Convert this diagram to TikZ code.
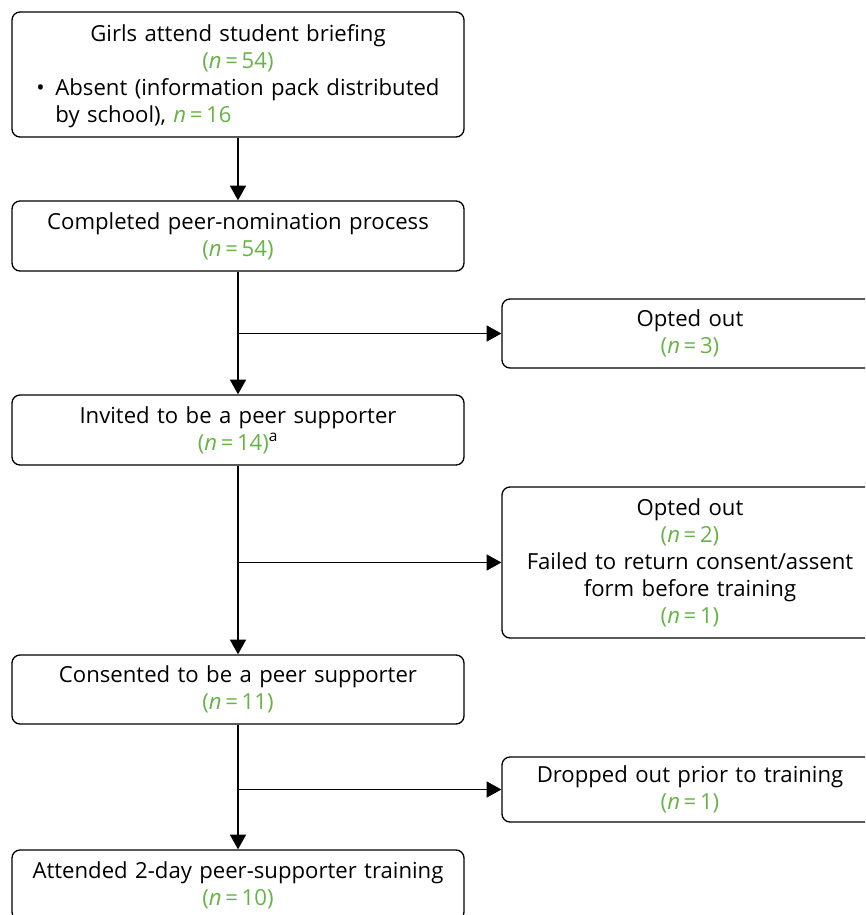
\documentclass[tikz,border=0pt]{standalone}
\usepackage{fontspec}
\setmainfont{Open Sans}
\usetikzlibrary{arrows.meta}
\definecolor{ngreen}{RGB}{102,180,72}
\newcommand{\nval}[1]{\textcolor{ngreen}{(\textit{n}\,=\,#1)}}
\tikzset{
  flowbox/.style={draw, rounded corners=6pt, align=center, inner sep=0pt,
    font=\fontsize{16.6}{20.25}\selectfont},
  mainbox/.style={flowbox, minimum width=339pt, text width=335pt},
  sidebox/.style={flowbox, minimum width=282pt, text width=278pt},
}
\begin{document}
\begin{tikzpicture}[x=0.75pt, y=-0.75pt, line width=1pt,
    >={Triangle[length=11pt,width=12pt]}]
  \useasboundingbox (0,0) rectangle (865,915);
  \clip (0,0) rectangle (865,915);
  % main column
  \node[mainbox, minimum height=93.75pt] (brief) at (238,74.5)
    {Girls attend student briefing\\ \nval{54}\\
     \begin{tabular}[t]{@{}l@{\hspace{8pt}}l@{}}
       \textbullet&Absent (information pack distributed\\
        &by school), \textcolor{ngreen}{\textit{n}\,=\,16}\\[-4.5pt]
     \end{tabular}};
  \node[mainbox, minimum height=52.5pt] (nominate) at (238,236)
    {Completed peer-nomination process\\ \nval{54}};
  \node[mainbox, minimum height=52.5pt] (invite) at (238,430)
    {Invited to be a peer supporter\\ \nval{14}\textsuperscript{a}};
  \node[mainbox, minimum height=51.75pt] (consent) at (238,689.5)
    {Consented to be a peer supporter\\ \nval{11}};
  \node[mainbox, minimum height=52.5pt] (train) at (238,885)
    {Attended 2-day peer-supporter training\\ \nval{10}};
  % exclusions
  \node[sidebox, minimum height=51.75pt] (optout1) at (690,333.5)
    {Opted out\\ \nval{3}};
  \node[sidebox, minimum height=113.25pt] (optout2) at (690,562.5)
    {Opted out\\ \nval{2}\\ Failed to return consent/assent\\
     form before training\\ \nval{1}};
  \node[sidebox, minimum height=48.75pt] (dropout) at (690,789.5)
    {Dropped out prior to training\\ \nval{1}};
  \begin{scope}[->]
    \draw (brief) to (nominate);
    \draw (nominate) to (invite);
    \draw (invite) to (consent);
    \draw (consent) to (train);
    \draw (nominate.south |- optout1.west) to (optout1.west);
    \draw (invite.south |- optout2.west) to (optout2.west);
    \draw (consent.south |- dropout.west) to (dropout.west);
  \end{scope}
\end{tikzpicture}
\end{document}
